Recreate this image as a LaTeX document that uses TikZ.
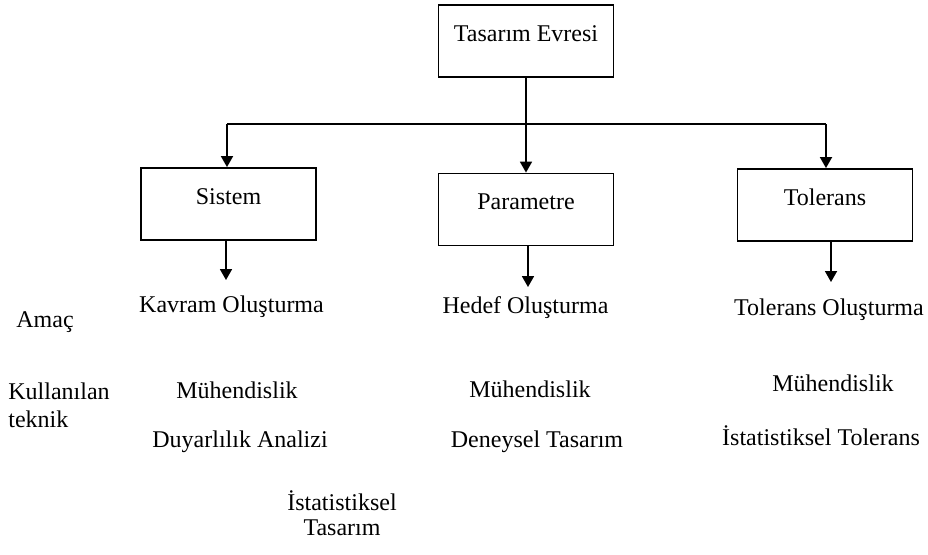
\documentclass[tikz,border=0pt]{standalone}
\usepackage{fontspec}
\setmainfont{Liberation Serif}
\usetikzlibrary{arrows.meta}

\tikzset{
  evre/.style={draw, line width=0.9pt, inner xsep=0pt, inner ysep=0pt,
    minimum width=87.5pt, text height=18pt, text depth=18pt},
  yazi/.style={anchor=base, inner sep=0pt},
  ok/.style={-{Triangle[width=6pt,length=5.5pt]}, line width=0.9pt}
}

\begin{document}
\begin{tikzpicture}[x=0.5pt, y=-0.5pt, font=\fontsize{12}{14}\selectfont]
	\useasboundingbox (0,0) rectangle (928,554);

	% kutular
	\node[evre] (evre) at (526,41) {Tasarım Evresi};
	\node[evre] (sistem) at (228.5,204) {Sistem};
	\node[evre] (param) at (526,209.5) {Parametre};
	\node[evre] (tol) at (825,205) {Tolerans};

	% dallanma
	\coordinate (dal) at (526,124);
	\coordinate (dalsol) at (227,124);
	\coordinate (dalsag) at (826,124);
	\draw[line width=0.9pt] (evre.south) -- (dal);
	\draw[line width=0.9pt] (dalsol) -- (dalsag);
	\draw[ok] (dalsol) -- (dalsol |- sistem.north);
	\draw[ok] (dal) -- (param.north);
	\draw[ok] (dalsag) -- (dalsag |- tol.north);

	% asagi oklar
	\coordinate (s1) at (226,280);
	\coordinate (p1) at (528,287);
	\coordinate (t1) at (831,282);
	\draw[ok] (s1 |- sistem.south) -- (s1);
	\draw[ok] (p1 |- param.south) -- (p1);
	\draw[ok] (t1 |- tol.south) -- (t1);

	% satir basliklari
	\node[yazi, anchor=base west] (amac) at (16,327) {Amaç};
	\node[yazi, anchor=base west, align=left] (teknik) at (8,427) {Kullanılan\\teknik};

	% amac
	\node[yazi] (kavram) at (231.5,312) {Kavram Oluşturma};
	\node[yazi] (hedef) at (525.5,313) {Hedef Oluşturma};
	\node[yazi] (tolol) at (829,315) {Tolerans Oluşturma};

	% teknikler
	\node[yazi] (muh1) at (237,398) {Mühendislik};
	\node[yazi] (duyar) at (240,447) {Duyarlılık Analizi};
	\node[yazi, align=center] (isttas) at (342,535) {İstatistiksel\\[-1.5pt]Tasarım};
	\node[yazi] (muh2) at (530,397) {Mühendislik};
	\node[yazi] (deney) at (537,447) {Deneysel Tasarım};
	\node[yazi] (muh3) at (833,391) {Mühendislik};
	\node[yazi] (isttol) at (821,445) {İstatistiksel Tolerans};
\end{tikzpicture}
\end{document}
